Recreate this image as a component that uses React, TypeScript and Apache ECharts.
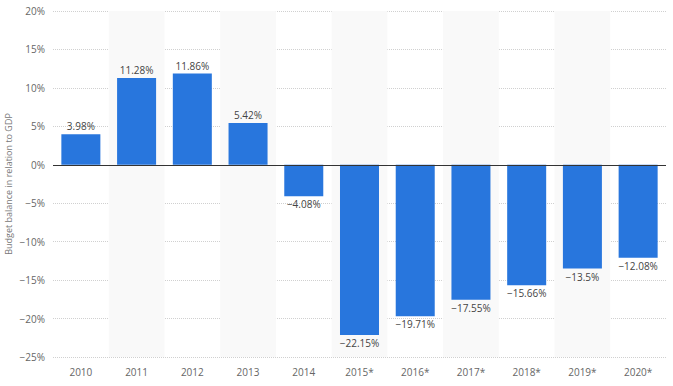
import React, { useEffect, useRef } from "react";
import * as echarts from "echarts";

const categories = ["2010", "2011", "2012", "2013", "2014", "2015*", "2016*", "2017*", "2018*", "2019*", "2020*"];
const values = [3.98, 11.28, 11.86, 5.42, -4.08, -22.15, -19.71, -17.55, -15.66, -13.5, -12.08];
const yTicks = { min: -25, max: 20, interval: 5 };
const yAxisTitle = "Budget balance in relation to GDP";

const fmt = (v: number) => (v < 0 ? "\u2212" + String(Math.abs(v)) : String(v));

export default function App() {
  const ref = useRef<HTMLDivElement>(null);
  useEffect(() => {
    if (!ref.current) return;
    const chart = echarts.init(ref.current, undefined, { renderer: "svg" });
    const font = "'Open Sans', sans-serif";
    chart.setOption({
      animation: false,
      textStyle: { fontFamily: font },
      grid: { left: 53, right: 7, top: 11, bottom: 29, outerBoundsMode: "none", containLabel: false },
      xAxis: {
        type: "category",
        data: categories,
        axisLine: { show: false },
        axisTick: { show: false },
        axisLabel: { color: "#666", fontSize: 10, margin: 10, fontFamily: font },
        splitArea: { show: true, areaStyle: { color: ["rgba(255,255,255,0)", "#f9f9f9"] } },
      },
      yAxis: {
        type: "value",
        min: yTicks.min,
        max: yTicks.max,
        interval: yTicks.interval,
        name: yAxisTitle,
        nameLocation: "middle",
        nameGap: 40,
        nameMoveOverlap: false,
        nameTextStyle: { color: "#777", fontSize: 9, fontFamily: font },
        axisLine: { show: false },
        axisTick: { show: false },
        axisLabel: {
          color: "#666",
          fontSize: 10,
          margin: 8,
          fontFamily: font,
          formatter: (v: number) => fmt(v) + "%",
        },
        splitLine: { lineStyle: { color: "#d0d0d0", type: [1, 1], width: 1 } },
      },
      series: [
        {
          type: "bar",
          barWidth: "70%",
          data: values.map((v) => ({
            value: v,
            label: { position: v >= 0 ? "top" : "bottom" },
          })),
          itemStyle: { color: "#2876dd" },
          label: {
            show: true,
            color: "#444",
            fontSize: 10,
            distance: 3,
            fontFamily: font,
            formatter: (p: any) => fmt(p.value) + "%",
          },
          markLine: {
            silent: true,
            symbol: "none",
            label: { show: false },
            lineStyle: { color: "#333", type: "solid", width: 1 },
            data: [{ yAxis: 0 }],
          },
        },
      ],
    });
    return () => chart.dispose();
  }, []);
  return <div ref={ref} style={{ width: 673, height: 386, position: "absolute", left: 0, top: 0 }} />;
}
